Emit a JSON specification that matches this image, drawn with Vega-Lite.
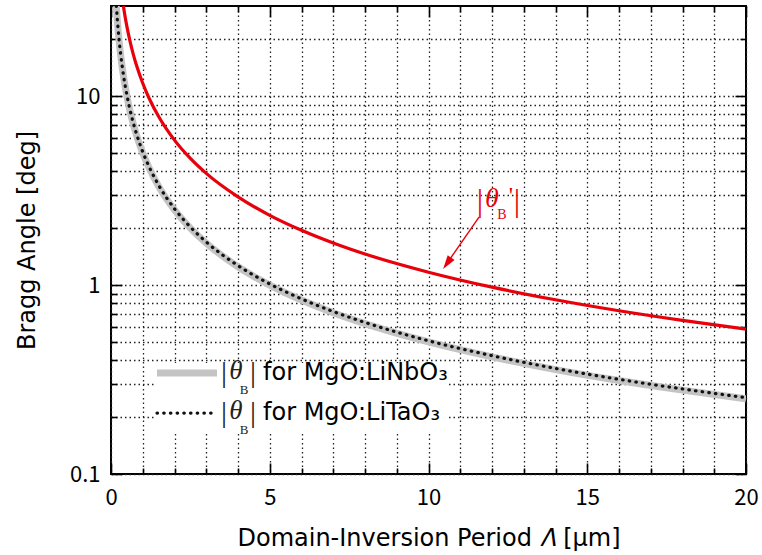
{
  "$schema": "https://vega.github.io/schema/vega-lite/v6.json",
  "width": 635,
  "height": 468,
  "autosize": "none",
  "padding": {"left": 111, "top": 6, "right": 16, "bottom": 81},
  "background": "white",
  "config": {
    "view": {"stroke": "#000", "strokeWidth": 2},
    "axis": {"domain": false, "tickColor": "#000", "tickWidth": 1.6, "labelColor": "#000", "titleColor": "#000", "titleFontWeight": "normal", "labelFont": "Noto Sans CJK JP", "labelFontSize": 22, "titleFont": "DejaVu Sans", "titleFontSize": 24, "labelFlush": false}
  },
  "datasets": {
    "linbo3": [
      {"period": 0.1667, "angle": 30.0}, {"period": 0.2, "angle": 25.0}, {"period": 0.25, "angle": 20.0},
      {"period": 0.3, "angle": 16.67}, {"period": 0.4, "angle": 12.5}, {"period": 0.5, "angle": 10.0},
      {"period": 0.6, "angle": 8.33}, {"period": 0.7, "angle": 7.14}, {"period": 0.8, "angle": 6.25},
      {"period": 1.0, "angle": 5.0}, {"period": 1.2, "angle": 4.17}, {"period": 1.5, "angle": 3.33},
      {"period": 2.0, "angle": 2.5}, {"period": 2.5, "angle": 2.0}, {"period": 3.0, "angle": 1.667},
      {"period": 4.0, "angle": 1.25}, {"period": 5.0, "angle": 1.0}, {"period": 6.0, "angle": 0.833},
      {"period": 7.0, "angle": 0.714}, {"period": 8.0, "angle": 0.625}, {"period": 10.0, "angle": 0.5},
      {"period": 12.0, "angle": 0.417}, {"period": 14.0, "angle": 0.357}, {"period": 16.0, "angle": 0.3125},
      {"period": 18.0, "angle": 0.278}, {"period": 20.0, "angle": 0.25}
    ],
    "litao3": [
      {"period": 0.169, "angle": 30.0}, {"period": 0.2, "angle": 25.35}, {"period": 0.25, "angle": 20.28},
      {"period": 0.3, "angle": 16.9}, {"period": 0.4, "angle": 12.68}, {"period": 0.5, "angle": 10.14},
      {"period": 0.6, "angle": 8.45}, {"period": 0.7, "angle": 7.24}, {"period": 0.8, "angle": 6.34},
      {"period": 1.0, "angle": 5.07}, {"period": 1.2, "angle": 4.23}, {"period": 1.5, "angle": 3.38},
      {"period": 2.0, "angle": 2.535}, {"period": 2.5, "angle": 2.028}, {"period": 3.0, "angle": 1.69},
      {"period": 4.0, "angle": 1.268}, {"period": 5.0, "angle": 1.014}, {"period": 6.0, "angle": 0.845},
      {"period": 7.0, "angle": 0.724}, {"period": 8.0, "angle": 0.634}, {"period": 10.0, "angle": 0.507},
      {"period": 12.0, "angle": 0.423}, {"period": 14.0, "angle": 0.362}, {"period": 16.0, "angle": 0.317},
      {"period": 18.0, "angle": 0.282}, {"period": 20.0, "angle": 0.2535}
    ],
    "prime": [
      {"period": 0.39, "angle": 30.0}, {"period": 0.45, "angle": 26.0}, {"period": 0.5, "angle": 23.4},
      {"period": 0.6, "angle": 19.5}, {"period": 0.7, "angle": 16.7}, {"period": 0.8, "angle": 14.6},
      {"period": 1.0, "angle": 11.7}, {"period": 1.2, "angle": 9.75}, {"period": 1.5, "angle": 7.8},
      {"period": 2.0, "angle": 5.85}, {"period": 2.5, "angle": 4.68}, {"period": 3.0, "angle": 3.9},
      {"period": 4.0, "angle": 2.93}, {"period": 5.0, "angle": 2.34}, {"period": 6.0, "angle": 1.95},
      {"period": 7.0, "angle": 1.67}, {"period": 8.0, "angle": 1.46}, {"period": 10.0, "angle": 1.17},
      {"period": 12.0, "angle": 0.975}, {"period": 14.0, "angle": 0.836}, {"period": 16.0, "angle": 0.731},
      {"period": 18.0, "angle": 0.65}, {"period": 20.0, "angle": 0.585}
    ],
    "anchor": [{}]
  },
  "resolve": {"axis": {"x": "independent", "y": "independent"}},
  "layer": [
    {
      "data": {"name": "linbo3"},
      "mark": {"type": "line", "stroke": "#c4c4c4", "strokeWidth": 7, "interpolate": "monotone", "clip": true},
      "encoding": {
        "x": {"field": "period", "type": "quantitative",
          "scale": {"domain": [0, 20], "nice": false, "zero": false},
          "axis": {"orient": "bottom", "values": [0,1,2,3,4,5,6,7,8,9,10,11,12,13,14,15,16,17,18,19,20],
            "labelExpr": "datum.value % 5 === 0 ? datum.label : ''",
            "tickSize": {"condition": {"test": "datum.value % 5 === 0", "value": -11}, "value": -6},
            "labelPadding": 24,
            "grid": true, "gridDash": [1.5, 3], "gridColor": "#222", "gridWidth": 1.3,
            "title": "Domain-Inversion Period 𝛬 [μm]", "titlePadding": 18}},
        "y": {"field": "angle", "type": "quantitative",
          "scale": {"type": "log", "domain": [0.1, 30], "nice": false},
          "axis": {"orient": "left", "values": [0.1,0.2,0.3,0.4,0.5,0.6,0.7,0.8,0.9,1,2,3,4,5,6,7,8,9,10,20],
            "format": "~g",
            "labelExpr": "datum.value == 0.1 || datum.value == 1 || datum.value == 10 ? datum.label : ''",
            "tickSize": {"condition": {"test": "datum.value == 0.1 || datum.value == 1 || datum.value == 10", "value": -11}, "value": -6},
            "labelPadding": 22,
            "grid": true, "gridDash": [1.5, 3], "gridColor": "#222", "gridWidth": 1.3,
            "title": "Bragg Angle [deg]", "titlePadding": 30}}
      }
    },
    {
      "data": {"name": "litao3"},
      "mark": {"type": "line", "stroke": "#111", "strokeWidth": 3.2, "strokeDash": [0.5, 6.2], "strokeCap": "round", "interpolate": "monotone", "clip": true},
      "encoding": {
        "x": {"field": "period", "type": "quantitative",
          "scale": {"domain": [0, 20], "nice": false, "zero": false},
          "axis": {"orient": "top", "values": [0,1,2,3,4,5,6,7,8,9,10,11,12,13,14,15,16,17,18,19,20],
            "labels": false, "grid": false, "title": null,
            "tickSize": {"condition": {"test": "datum.value % 5 === 0", "value": -11}, "value": -6}}},
        "y": {"field": "angle", "type": "quantitative",
          "scale": {"type": "log", "domain": [0.1, 30], "nice": false},
          "axis": {"orient": "right", "values": [0.1,0.2,0.3,0.4,0.5,0.6,0.7,0.8,0.9,1,2,3,4,5,6,7,8,9,10,20],
            "labels": false, "grid": false, "title": null,
            "tickSize": {"condition": {"test": "datum.value == 0.1 || datum.value == 1 || datum.value == 10", "value": -11}, "value": -6}}}
      }
    },
    {
      "data": {"name": "prime"},
      "mark": {"type": "line", "stroke": "#e8000b", "strokeWidth": 3.2, "interpolate": "monotone", "clip": true},
      "encoding": {
        "x": {"field": "period", "type": "quantitative", "axis": null},
        "y": {"field": "angle", "type": "quantitative", "axis": null}
      }
    },
    {
      "data": {"name": "anchor"},
      "mark": {"type": "rect", "fill": "white"},
      "encoding": {
        "x": {"datum": 1.386, "type": "quantitative", "axis": null}, "x2": {"datum": 10.58},
        "y": {"datum": 0.3867, "type": "quantitative", "axis": null}, "y2": {"datum": 0.1689}
      }
    },
    {
      "data": {"name": "anchor"},
      "mark": {"type": "rule", "stroke": "#c4c4c4", "strokeWidth": 7},
      "encoding": {
        "x": {"datum": 1.449, "type": "quantitative", "axis": null}, "x2": {"datum": 3.339},
        "y": {"datum": 0.3423, "type": "quantitative", "axis": null}
      }
    },
    {
      "data": {"name": "anchor"},
      "mark": {"type": "rule", "stroke": "#111", "strokeWidth": 3.2, "strokeDash": [0.5, 6.2], "strokeCap": "round"},
      "encoding": {
        "x": {"datum": 1.449, "type": "quantitative", "axis": null}, "x2": {"datum": 3.18},
        "y": {"datum": 0.2102, "type": "quantitative", "axis": null}
      }
    },
    {
      "data": {"name": "anchor"},
      "mark": {"type": "text", "text": "|", "font": "Liberation Serif", "fontSize": 30, "align": "center", "baseline": "middle", "color": "#222"},
      "encoding": {"x": {"datum": 3.559, "type": "quantitative", "axis": null}, "y": {"datum": 0.3423, "type": "quantitative", "axis": null}}
    },
    {
      "data": {"name": "anchor"},
      "mark": {"type": "text", "text": "θ", "font": "Liberation Serif", "fontStyle": "italic", "fontSize": 27, "align": "center", "baseline": "middle", "dx": 12, "dy": -2, "color": "#222"},
      "encoding": {"x": {"datum": 3.559, "type": "quantitative", "axis": null}, "y": {"datum": 0.3423, "type": "quantitative", "axis": null}}
    },
    {
      "data": {"name": "anchor"},
      "mark": {"type": "text", "text": "B", "font": "Liberation Serif", "fontSize": 13, "align": "center", "baseline": "middle", "dx": 20, "dy": 17, "color": "#222"},
      "encoding": {"x": {"datum": 3.559, "type": "quantitative", "axis": null}, "y": {"datum": 0.3423, "type": "quantitative", "axis": null}}
    },
    {
      "data": {"name": "anchor"},
      "mark": {"type": "text", "text": "|", "font": "Liberation Serif", "fontSize": 30, "align": "center", "baseline": "middle", "dx": 29, "color": "#222"},
      "encoding": {"x": {"datum": 3.559, "type": "quantitative", "axis": null}, "y": {"datum": 0.3423, "type": "quantitative", "axis": null}}
    },
    {
      "data": {"name": "anchor"},
      "mark": {"type": "text", "text": "for MgO:LiNbO₃", "font": "DejaVu Sans", "fontSize": 24, "align": "left", "baseline": "middle", "dx": 39, "color": "#000"},
      "encoding": {"x": {"datum": 3.559, "type": "quantitative", "axis": null}, "y": {"datum": 0.3423, "type": "quantitative", "axis": null}}
    },
    {
      "data": {"name": "anchor"},
      "mark": {"type": "text", "text": "|", "font": "Liberation Serif", "fontSize": 30, "align": "center", "baseline": "middle", "color": "#222"},
      "encoding": {"x": {"datum": 3.559, "type": "quantitative", "axis": null}, "y": {"datum": 0.2102, "type": "quantitative", "axis": null}}
    },
    {
      "data": {"name": "anchor"},
      "mark": {"type": "text", "text": "θ", "font": "Liberation Serif", "fontStyle": "italic", "fontSize": 27, "align": "center", "baseline": "middle", "dx": 12, "dy": -2, "color": "#222"},
      "encoding": {"x": {"datum": 3.559, "type": "quantitative", "axis": null}, "y": {"datum": 0.2102, "type": "quantitative", "axis": null}}
    },
    {
      "data": {"name": "anchor"},
      "mark": {"type": "text", "text": "B", "font": "Liberation Serif", "fontSize": 13, "align": "center", "baseline": "middle", "dx": 20, "dy": 17, "color": "#222"},
      "encoding": {"x": {"datum": 3.559, "type": "quantitative", "axis": null}, "y": {"datum": 0.2102, "type": "quantitative", "axis": null}}
    },
    {
      "data": {"name": "anchor"},
      "mark": {"type": "text", "text": "|", "font": "Liberation Serif", "fontSize": 30, "align": "center", "baseline": "middle", "dx": 29, "color": "#222"},
      "encoding": {"x": {"datum": 3.559, "type": "quantitative", "axis": null}, "y": {"datum": 0.2102, "type": "quantitative", "axis": null}}
    },
    {
      "data": {"name": "anchor"},
      "mark": {"type": "text", "text": "for MgO:LiTaO₃", "font": "DejaVu Sans", "fontSize": 24, "align": "left", "baseline": "middle", "dx": 39, "color": "#000"},
      "encoding": {"x": {"datum": 3.559, "type": "quantitative", "axis": null}, "y": {"datum": 0.2102, "type": "quantitative", "axis": null}}
    },
    {
      "data": {"name": "anchor"},
      "mark": {"type": "rule", "stroke": "#e8000b", "strokeWidth": 1.4},
      "encoding": {
        "x": {"datum": 11.591, "type": "quantitative", "axis": null}, "x2": {"datum": 10.614},
        "y": {"datum": 2.289, "type": "quantitative", "axis": null}, "y2": {"datum": 1.327}
      }
    },
    {
      "data": {"name": "anchor"},
      "mark": {"type": "point", "shape": "M0,0 L0.3,1 L-0.3,1 Z", "size": 784, "angle": 215, "filled": true, "fill": "#e8000b", "strokeWidth": 0, "opacity": 1},
      "encoding": {"x": {"datum": 10.46, "type": "quantitative", "axis": null}, "y": {"datum": 1.215, "type": "quantitative", "axis": null}}
    },
    {
      "data": {"name": "anchor"},
      "mark": {"type": "text", "text": "|", "font": "Liberation Serif", "fontSize": 32, "align": "center", "baseline": "middle", "color": "#e8000b"},
      "encoding": {"x": {"datum": 11.622, "type": "quantitative", "axis": null}, "y": {"datum": 2.782, "type": "quantitative", "axis": null}}
    },
    {
      "data": {"name": "anchor"},
      "mark": {"type": "text", "text": "θ", "font": "Liberation Serif", "fontStyle": "italic", "fontSize": 28, "align": "center", "baseline": "middle", "dx": 12, "dy": -2, "color": "#e8000b"},
      "encoding": {"x": {"datum": 11.622, "type": "quantitative", "axis": null}, "y": {"datum": 2.782, "type": "quantitative", "axis": null}}
    },
    {
      "data": {"name": "anchor"},
      "mark": {"type": "text", "text": "B", "font": "Liberation Serif", "fontSize": 14, "align": "center", "baseline": "middle", "dx": 22, "dy": 14, "color": "#e8000b"},
      "encoding": {"x": {"datum": 11.622, "type": "quantitative", "axis": null}, "y": {"datum": 2.782, "type": "quantitative", "axis": null}}
    },
    {
      "data": {"name": "anchor"},
      "mark": {"type": "text", "text": "'", "font": "Liberation Serif", "fontSize": 24, "align": "center", "baseline": "middle", "dx": 31, "dy": -5, "color": "#e8000b"},
      "encoding": {"x": {"datum": 11.622, "type": "quantitative", "axis": null}, "y": {"datum": 2.782, "type": "quantitative", "axis": null}}
    },
    {
      "data": {"name": "anchor"},
      "mark": {"type": "text", "text": "|", "font": "Liberation Serif", "fontSize": 32, "align": "center", "baseline": "middle", "dx": 37, "color": "#e8000b"},
      "encoding": {"x": {"datum": 11.622, "type": "quantitative", "axis": null}, "y": {"datum": 2.782, "type": "quantitative", "axis": null}}
    }
  ]
}
